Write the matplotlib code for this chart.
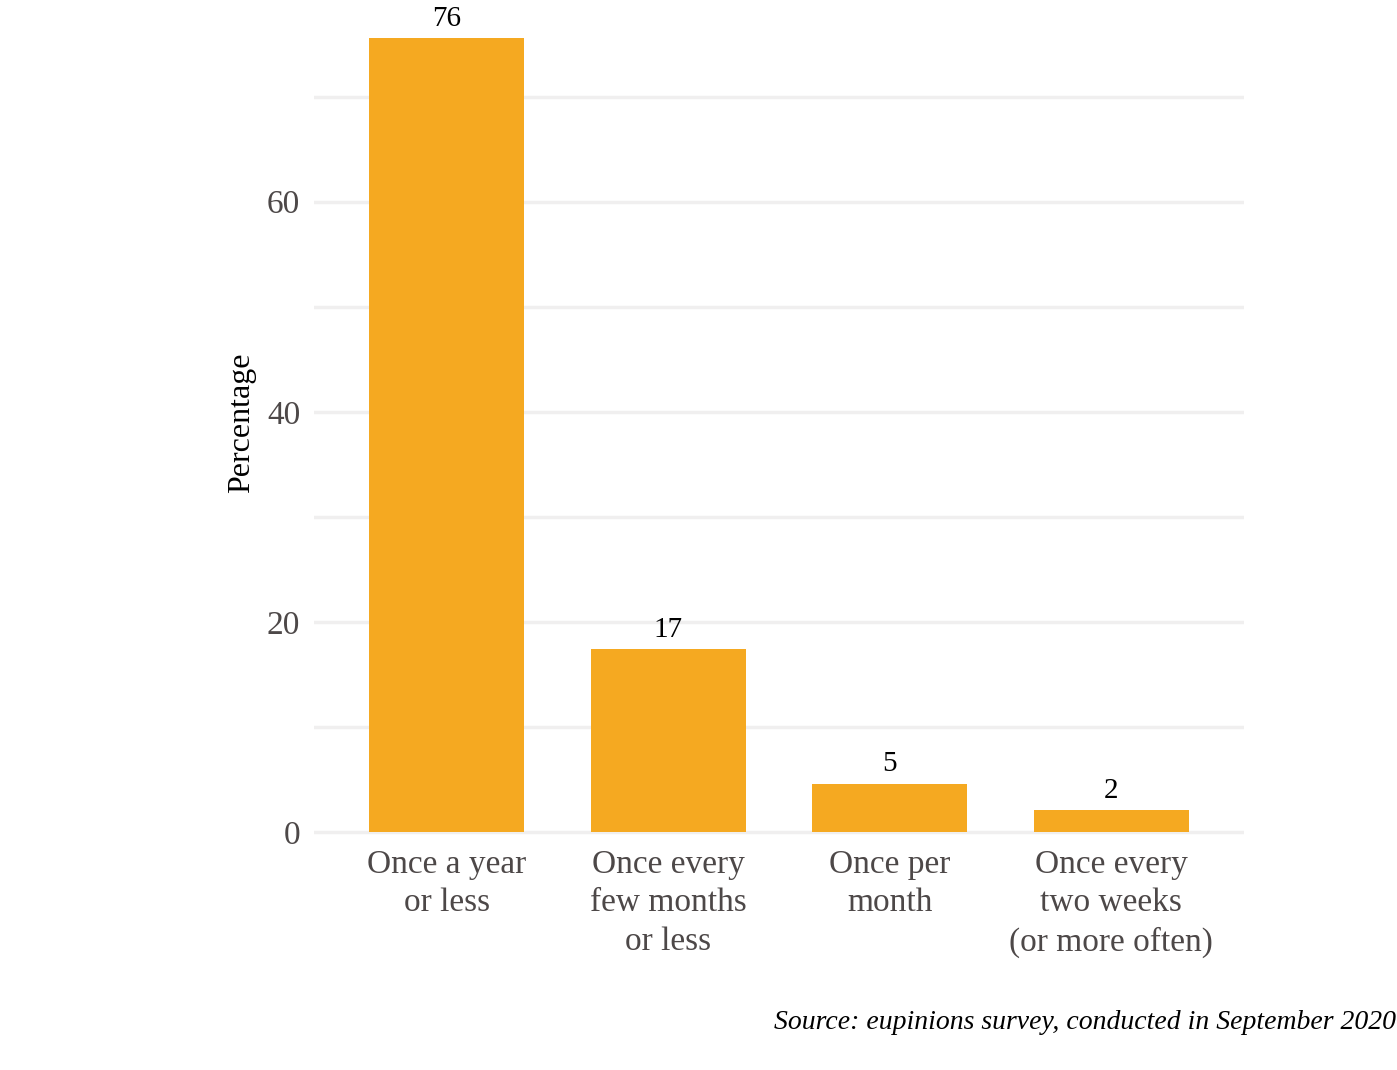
import numpy as np
import matplotlib
matplotlib.use("Agg")
import matplotlib.pyplot as plt

# Data
categories = ["Once a year\nor less", "Once every\nfew months\nor less",
              "Once per\nmonth", "Once every\ntwo weeks\n(or more often)"]
values = [75.6, 17.4, 4.6, 2.1]
labels = ["76", "17", "5", "2"]

bar_color = "#F5A921"
text_gray = "#4D4848"
grid_color = "#F0EFEF"

plt.rcParams["font.family"] = ["Liberation Serif", "DejaVu Serif"]

fig = plt.figure(figsize=(13.97, 10.70), dpi=100)
# panel: x 314..1244 px, y 0..845 px
ax = fig.add_axes([0.2248, 0.2103, 0.6657, 0.7897])

x = np.arange(1, len(categories) + 1)
ax.bar(x, values, width=0.7, color=bar_color, zorder=2)

for xi, v, lab in zip(x, values, labels):
    ax.text(xi, v + 0.6, lab, ha="center", va="bottom", fontsize=21, color="black")

ax.set_xlim(0.4, 4.6)
ax.set_ylim(-1.24, 79.2)
ax.set_yticks([0, 20, 40, 60])
ax.set_yticks([10, 30, 50, 70], minor=True)
ax.set_xticks(x)
ax.set_xticklabels(categories, fontsize=24, color=text_gray, linespacing=1.35)
ax.tick_params(axis="y", labelsize=24, labelcolor=text_gray)
ax.tick_params(which="both", length=0)
ax.tick_params(axis="x", pad=3)
ax.tick_params(axis="y", pad=10)

ax.grid(axis="y", which="both", color=grid_color, linewidth=2.5, zorder=0)
ax.grid(axis="x", visible=False)
for s in ax.spines.values():
    s.set_visible(False)

ax.set_ylabel("Percentage", fontsize=23, color="black", labelpad=8)

fig.text(0.999, 0.038, "Source: eupinions survey, conducted in September 2020",
         ha="right", va="baseline", fontsize=20, style="italic", color="black")

fig.savefig("out.png", dpi=100)
